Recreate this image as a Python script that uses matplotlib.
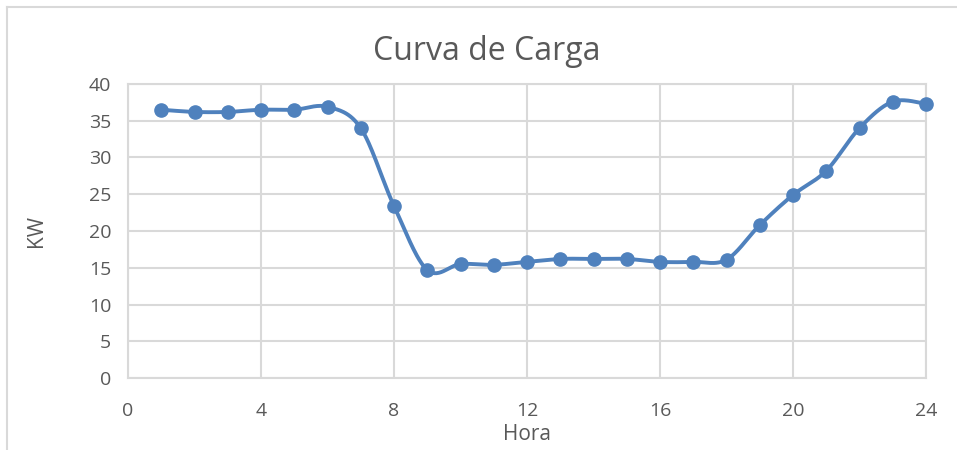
import numpy as np
import matplotlib
matplotlib.use("Agg")
import matplotlib.pyplot as plt
from matplotlib.lines import Line2D

hora = [1, 2, 3, 4, 5, 6, 7, 8, 9, 10, 11, 12,
        13, 14, 15, 16, 17, 18, 19, 20, 21, 22, 23, 24]
kw = [36.5, 36.2, 36.2, 36.5, 36.5, 36.9, 34.0, 23.4, 14.7, 15.5, 15.4, 15.8,
      16.2, 16.2, 16.2, 15.8, 15.8, 16.1, 20.8, 24.9, 28.2, 34.0, 37.6, 37.3]
xticks = [0, 4, 8, 12, 16, 20, 24]
yticks = [0, 5, 10, 15, 20, 25, 30, 35, 40]

BLUE = "#4f81bd"
GRID = "#d9d9d9"
TXT = "#595959"

plt.rcParams['font.family'] = ['Open Sans', 'DejaVu Sans']


def smooth(x, y, n=30):
    # curva suavizada tipo Excel (bezier con puntos de control catmull-rom)
    x = np.asarray(x, float); y = np.asarray(y, float)
    px, py = [], []
    for i in range(len(x) - 1):
        x0, y0 = (x[i - 1], y[i - 1]) if i > 0 else (x[i], y[i])
        x3, y3 = (x[i + 2], y[i + 2]) if i + 2 < len(x) else (x[i + 1], y[i + 1])
        x1, y1 = x[i], y[i]
        x2, y2 = x[i + 1], y[i + 1]
        c1x = x1 + (x2 - x0) / 6; c1y = y1 + (y2 - y0) / 6
        c2x = x2 - (x3 - x1) / 6; c2y = y2 - (y3 - y1) / 6
        t = np.linspace(0, 1, n)
        bx = (1-t)**3*x1 + 3*(1-t)**2*t*c1x + 3*(1-t)*t**2*c2x + t**3*x2
        by = (1-t)**3*y1 + 3*(1-t)**2*t*c1y + 3*(1-t)*t**2*c2y + t**3*y2
        px.extend(bx); py.extend(by)
    return px, py


fig = plt.figure(figsize=(9.57, 4.5), dpi=100)
ax = fig.add_axes([128/957, 72/450, 798/957, 294/450])

sx, sy = smooth(hora, kw)
ax.plot(sx, sy, color=BLUE, lw=2.8, zorder=3, solid_capstyle='round')
ax.plot(hora, kw, 'o', color=BLUE, ms=9.5, zorder=4, clip_on=False)

ax.set_xlim(0, 24)
ax.set_ylim(0, 40)
ax.set_xticks(xticks)
ax.set_yticks(yticks)
ax.grid(True, color=GRID, lw=1.5)
ax.set_axisbelow(True)
for s in ax.spines.values():
    s.set_color(GRID)
    s.set_linewidth(1.5)
ax.tick_params(length=0, labelsize=14, colors=TXT)
ax.tick_params(axis='x', pad=17)
ax.tick_params(axis='y', pad=12)

ax.set_xlabel("Hora", fontsize=15, color=TXT, labelpad=3)
ax.set_ylabel("KW", fontsize=15, color=TXT, labelpad=30)
fig.text(487/957, 1 - 52/450, "Curva de Carga", ha='center', va='center',
         fontsize=23, color=TXT)

# borde del area del grafico (izquierda y arriba)
fig.add_artist(Line2D([7/957, 7/957], [0, 1 - 7/450], color=GRID, lw=1.5))
fig.add_artist(Line2D([7/957, 1], [1 - 7/450, 1 - 7/450], color=GRID, lw=1.5))

fig.savefig("out.png", dpi=100)
